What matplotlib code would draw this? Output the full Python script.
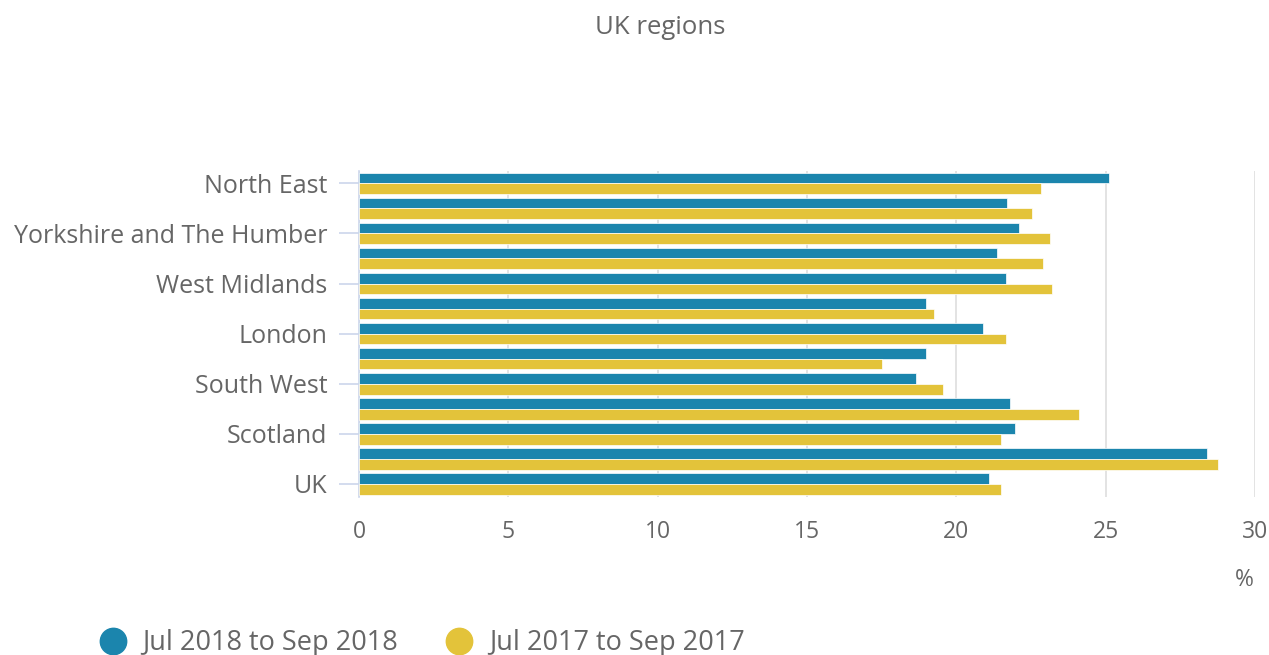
import matplotlib
matplotlib.use("Agg")
import matplotlib.pyplot as plt
from matplotlib.lines import Line2D
import numpy as np

regions = ["North East", "North West", "Yorkshire and The Humber", "East Midlands",
           "West Midlands", "East", "London", "South East", "South West", "Wales",
           "Scotland", "Northern Ireland", "UK"]
series_2018 = [25.1, 21.7, 22.1, 21.35, 21.65, 19.0, 20.9, 19.0, 18.65, 21.8, 21.95, 28.4, 21.1]
series_2017 = [22.85, 22.55, 23.15, 22.9, 23.2, 19.25, 21.65, 17.5, 19.55, 24.1, 21.5, 28.75, 21.5]
label_2018 = "Jul 2018 to Sep 2018"
label_2017 = "Jul 2017 to Sep 2017"
xticks = [0, 5, 10, 15, 20, 25, 30]

blue = "#1b85ad"
yellow = "#e3c33a"
txt = "#666666"

plt.rcParams['font.family'] = ['Open Sans', 'DejaVu Sans']

fig = plt.figure(figsize=(12.69, 6.55), dpi=100)
ax = fig.add_axes([359/1269, 1 - 496.5/655, (1255-359)/1269, (496.5-170.8)/655])

y = np.arange(len(regions))
h = 0.43
ax.barh(y - h/2, series_2018, height=h, color=blue, edgecolor="#ffffff", linewidth=0.5, zorder=3)
ax.barh(y + h/2, series_2017, height=h, color=yellow, edgecolor="#ffffff", linewidth=0.5, zorder=3)

ax.set_xlim(0, 30)
ax.set_ylim(len(regions) - 0.5, -0.5)
ax.set_xticks(xticks)
ax.set_xticklabels([str(t) for t in xticks])
ax.xaxis.grid(True, color="#e3e3e3", linewidth=1.4, zorder=0)
ax.set_axisbelow(True)

even = y[::2]
ax.set_yticks(even)
ax.set_yticklabels([regions[i] for i in even])

for s in ["top", "right", "bottom"]:
    ax.spines[s].set_visible(False)
ax.spines["left"].set_color("#ccd6eb")
ax.spines["left"].set_linewidth(1.2)

ax.tick_params(axis="y", length=14.4, width=1.2, color="#ccd6eb", pad=8.5,
               labelsize=18, labelcolor=txt)
ax.tick_params(axis="x", length=0, pad=17, labelsize=16.5, labelcolor=txt)

fig.text(1244/1269, 1 - 580/655, "%", ha="center", va="center", fontsize=16.5, color=txt)
fig.text(660/1269, 1 - 27/655, "UK regions", ha="center", va="center", fontsize=18.5, color=txt)

handles = [Line2D([], [], marker="o", linestyle="none", markersize=19, color=blue),
           Line2D([], [], marker="o", linestyle="none", markersize=19, color=yellow)]
leg = fig.legend(handles, [label_2018, label_2017], loc="center left",
                 bbox_to_anchor=(99/1269, 1 - 643/655), ncol=2, frameon=False,
                 fontsize=19.5, handletextpad=0.6, columnspacing=1.75, borderaxespad=0,
                 borderpad=0, handlelength=1.0)
for t in leg.get_texts():
    t.set_color(txt)

fig.savefig("out.png", dpi=100)
